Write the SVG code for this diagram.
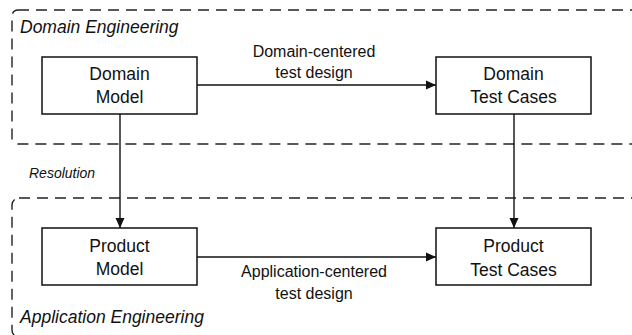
<svg xmlns="http://www.w3.org/2000/svg" width="632" height="335" viewBox="0 0 632 335">
  <style>
    .region { fill: none; stroke: #222; stroke-width: 1.4; stroke-dasharray: 11 7; }
    .box { fill: #fff; stroke: #111; stroke-width: 1.5; }
    .edge { fill: none; stroke: #111; stroke-width: 1.4; }
    .node-text { font-family: "Liberation Sans", Arial, sans-serif; font-size: 17.5px; fill: #111; text-anchor: middle; }
    .edge-text { font-family: "Liberation Sans", Arial, sans-serif; font-size: 16px; fill: #111; text-anchor: middle; }
    .region-text { font-family: "Liberation Sans", Arial, sans-serif; font-size: 17.5px; font-style: italic; fill: #111; }
    .small-italic { font-family: "Liberation Sans", Arial, sans-serif; font-size: 14px; font-style: italic; fill: #111; }
  </style>
  <defs>
    <marker id="arrow" viewBox="0 0 10 10" refX="10" refY="5" markerWidth="10" markerHeight="10" markerUnits="userSpaceOnUse" orient="auto">
      <path d="M0,0.5 L10,5 L0,9.5 Z" fill="#111"/>
    </marker>
  </defs>
  <rect width="632" height="335" fill="#fff"/>

  <!-- engineering regions (open to the right and bottom edges) -->
  <g id="domain-engineering">
    <rect class="region" x="12" y="10" width="640" height="134" rx="6"/>
    <text class="region-text" x="20" y="33">Domain Engineering</text>
  </g>
  <g id="application-engineering">
    <rect class="region" x="12" y="198" width="640" height="139" rx="7"/>
    <text class="region-text" x="20" y="323">Application Engineering</text>
  </g>

  <!-- connectors -->
  <g id="connectors">
    <line class="edge" x1="197" y1="85" x2="436" y2="85" marker-end="url(#arrow)"/>
    <line class="edge" x1="120" y1="114" x2="120" y2="228" marker-end="url(#arrow)"/>
    <line class="edge" x1="514" y1="114" x2="514" y2="228" marker-end="url(#arrow)"/>
    <line class="edge" x1="197" y1="257" x2="436" y2="257" marker-end="url(#arrow)"/>
    <text class="edge-text" x="314" y="57">Domain-centered</text>
    <text class="edge-text" x="314" y="78">test design</text>
    <text class="edge-text" x="314" y="277">Application-centered</text>
    <text class="edge-text" x="314" y="299">test design</text>
    <text class="small-italic" x="29" y="178">Resolution</text>
  </g>

  <!-- nodes -->
  <g id="domain-model">
    <rect class="box" x="42" y="57" width="155" height="57"/>
    <text class="node-text" x="119.5" y="80">Domain</text>
    <text class="node-text" x="119.5" y="103">Model</text>
  </g>
  <g id="domain-test-cases">
    <rect class="box" x="436" y="57" width="155" height="57"/>
    <text class="node-text" x="513.5" y="80">Domain</text>
    <text class="node-text" x="513.5" y="103">Test Cases</text>
  </g>
  <g id="product-model">
    <rect class="box" x="42" y="228" width="155" height="57"/>
    <text class="node-text" x="119.5" y="252">Product</text>
    <text class="node-text" x="119.5" y="275">Model</text>
  </g>
  <g id="product-test-cases">
    <rect class="box" x="436" y="228" width="155" height="57"/>
    <text class="node-text" x="513.5" y="252">Product</text>
    <text class="node-text" x="513.5" y="276">Test Cases</text>
  </g>
</svg>
